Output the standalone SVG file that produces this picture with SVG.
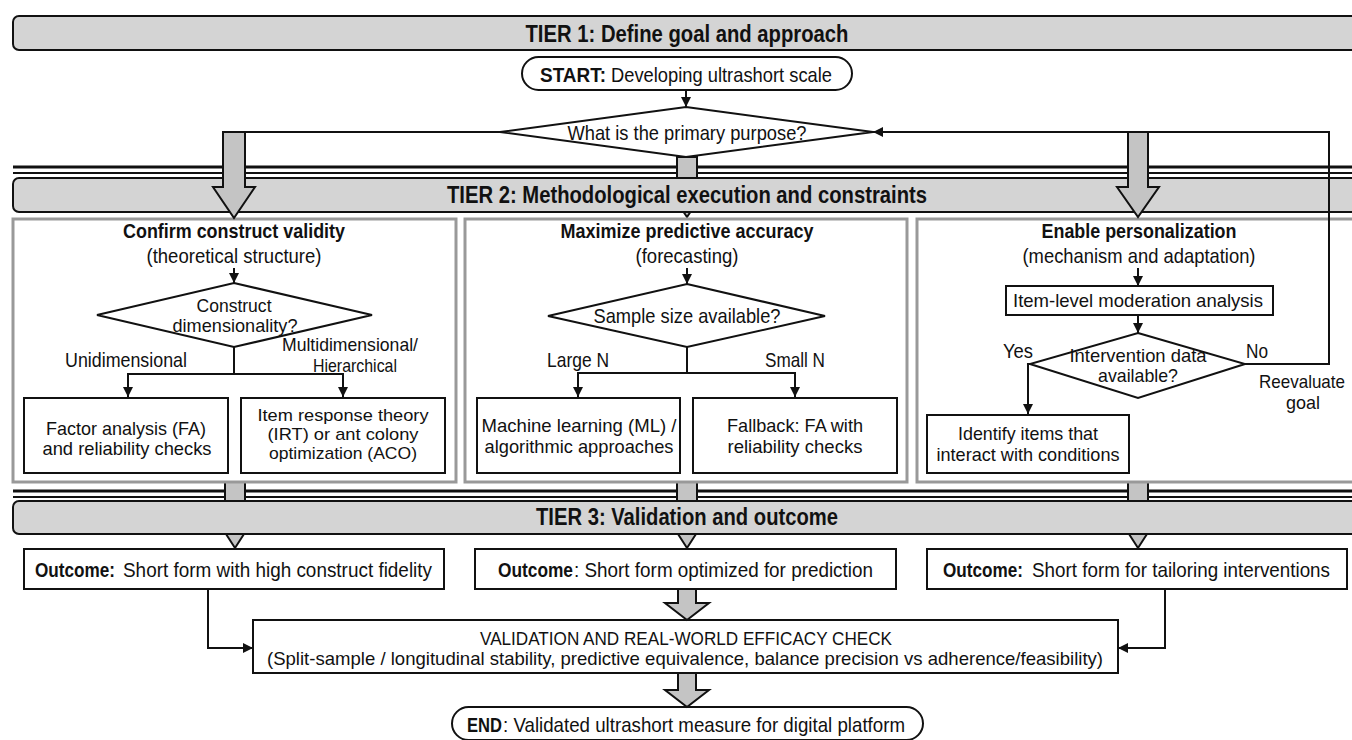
<svg xmlns="http://www.w3.org/2000/svg" width="1352" height="740" viewBox="0 0 1352 740">
<defs>
<style>
text{font-family:"Liberation Sans",Arial,sans-serif;fill:#111;}
.t{font-size:24px;font-weight:bold;text-anchor:middle;}
.m{font-size:21px;text-anchor:middle;}
.l{font-size:21px;text-anchor:start;}
.s{font-size:19px;text-anchor:middle;}
.x{font-size:17px;text-anchor:middle;}
.b{font-weight:bold;}
.bar{fill:#d4d4d4;stroke:#111;stroke-width:2;}
.panel{fill:#fff;stroke:#999;stroke-width:3;}
.box{fill:#fff;stroke:#111;stroke-width:2;}
.dia{fill:#fff;stroke:#111;stroke-width:2;}
.ga{fill:#c4c4c4;stroke:#111;stroke-width:2;stroke-linejoin:miter;}
.c{fill:none;stroke:#111;stroke-width:2;}
.dl{stroke:#111;}
</style>
<marker id="ah" viewBox="0 0 10 10" refX="10" refY="5" markerWidth="10" markerHeight="10" markerUnits="userSpaceOnUse" orient="auto"><path d="M0,0 L10,5 L0,10 z" fill="#111"/></marker>
</defs>
<rect width="1352" height="740" fill="#fff"/>

<g id="separators">
<line class="dl" x1="13" y1="167" x2="1352" y2="167" stroke-width="3"/>
<line class="dl" x1="13" y1="173" x2="1352" y2="173" stroke-width="2"/>
<line class="dl" x1="13" y1="491" x2="1352" y2="491" stroke-width="3"/>
<line class="dl" x1="13" y1="497" x2="1352" y2="497" stroke-width="2"/>
</g>

<g id="under-arrows">
<polygon class="ga" points="677,157 697,157 697,186 708,186 687,217 666,186 677,186"/>
<polygon class="ga" points="225,482 245,482 245,517 255,517 235,548 215,517 225,517"/>
<polygon class="ga" points="677,482 697,482 697,517 707,517 687,548 667,517 677,517"/>
<polygon class="ga" points="1128,482 1148,482 1148,517 1158,517 1138,548 1118,517 1128,517"/>
</g>

<g id="tier1"><rect class="bar" x="13" y="16" width="1350" height="34" rx="6"/><text class="t" x="687" y="42" textLength="323" lengthAdjust="spacingAndGlyphs">TIER 1: Define goal and approach</text></g>
<g id="tier2"><rect class="bar" x="13" y="178" width="1350" height="34" rx="6"/><text class="t" x="687" y="203" textLength="480" lengthAdjust="spacingAndGlyphs">TIER 2: Methodological execution and constraints</text></g>
<g id="tier3"><rect class="bar" x="13" y="501" width="1350" height="33" rx="6"/><text class="t" x="687" y="525" textLength="302" lengthAdjust="spacingAndGlyphs">TIER 3: Validation and outcome</text></g>

<g id="panel-left"><rect class="panel" x="13" y="219" width="443" height="263"/>
<text class="m b" x="234" y="238" textLength="222" lengthAdjust="spacingAndGlyphs">Confirm construct validity</text>
<text class="m" x="234" y="263" textLength="175" lengthAdjust="spacingAndGlyphs">(theoretical structure)</text></g>
<g id="panel-mid"><rect class="panel" x="465" y="219" width="442" height="263"/>
<text class="m b" x="687" y="238" textLength="253" lengthAdjust="spacingAndGlyphs">Maximize predictive accuracy</text>
<text class="m" x="687" y="263" textLength="103" lengthAdjust="spacingAndGlyphs">(forecasting)</text></g>
<g id="panel-right"><rect class="panel" x="917" y="219" width="450" height="263"/>
<text class="m b" x="1139" y="238" textLength="195" lengthAdjust="spacingAndGlyphs">Enable personalization</text>
<text class="m" x="1139" y="263" textLength="233" lengthAdjust="spacingAndGlyphs">(mechanism and adaptation)</text></g>

<g id="start"><rect class="box" x="522" y="57" width="330" height="33" rx="16.5"/>
<text class="l b" x="540" y="82" textLength="66" lengthAdjust="spacingAndGlyphs">START:</text>
<text class="l" x="611" y="82" textLength="221" lengthAdjust="spacingAndGlyphs">Developing ultrashort scale</text></g>

<g id="purpose"><polygon class="dia" points="686,107 873,132 686,157 500,132"/>
<text class="m" x="687" y="140" textLength="239" lengthAdjust="spacingAndGlyphs">What is the primary purpose?</text></g>

<g id="dim"><polygon class="dia" points="234,283 372,315 234,347 97,315"/>
<text class="s" x="234" y="312" textLength="75" lengthAdjust="spacingAndGlyphs">Construct</text>
<text class="s" x="235" y="332" textLength="125" lengthAdjust="spacingAndGlyphs">dimensionality?</text></g>

<g id="fa"><rect class="box" x="24" y="398" width="204" height="75"/>
<text class="s" x="126" y="435" textLength="160" lengthAdjust="spacingAndGlyphs">Factor analysis (FA)</text>
<text class="s" x="127" y="455" textLength="169" lengthAdjust="spacingAndGlyphs">and reliability checks</text></g>

<g id="irt"><rect class="box" x="241" y="398" width="204" height="75"/>
<text class="x" x="343" y="421" textLength="171" lengthAdjust="spacingAndGlyphs">Item response theory</text>
<text class="x" x="343" y="440" textLength="151" lengthAdjust="spacingAndGlyphs">(IRT) or ant colony</text>
<text class="x" x="343" y="459" textLength="148" lengthAdjust="spacingAndGlyphs">optimization (ACO)</text></g>

<g id="sample"><polygon class="dia" points="687,284 825,316 687,347 548,316"/>
<text class="m" x="687" y="323" textLength="187" lengthAdjust="spacingAndGlyphs">Sample size available?</text></g>

<g id="ml"><rect class="box" x="477" y="398" width="203" height="75"/>
<text class="s" x="579" y="432" textLength="195" lengthAdjust="spacingAndGlyphs">Machine learning (ML) /</text>
<text class="s" x="579" y="453" textLength="189" lengthAdjust="spacingAndGlyphs">algorithmic approaches</text></g>

<g id="fallback"><rect class="box" x="693" y="398" width="204" height="75"/>
<text class="s" x="795" y="432" textLength="136" lengthAdjust="spacingAndGlyphs">Fallback: FA with</text>
<text class="s" x="795" y="453" textLength="135" lengthAdjust="spacingAndGlyphs">reliability checks</text></g>

<g id="moderation"><rect class="box" x="1006" y="286" width="267" height="29"/>
<text class="s" x="1138" y="307" textLength="250" lengthAdjust="spacingAndGlyphs">Item-level moderation analysis</text></g>

<g id="intervention"><polygon class="dia" points="1138,333 1245,364 1138,398 1030,364"/>
<text class="s" x="1138" y="362" textLength="137" lengthAdjust="spacingAndGlyphs">Intervention data</text>
<text class="s" x="1138" y="382" textLength="80" lengthAdjust="spacingAndGlyphs">available?</text></g>

<g id="identify"><rect class="box" x="927" y="415" width="202" height="58"/>
<text class="s" x="1028" y="440" textLength="140" lengthAdjust="spacingAndGlyphs">Identify items that</text>
<text class="s" x="1028" y="461" textLength="183" lengthAdjust="spacingAndGlyphs">interact with conditions</text></g>

<g id="out-left"><rect class="box" x="24" y="549" width="420" height="40"/>
<text class="l b" x="35" y="577" textLength="80" lengthAdjust="spacingAndGlyphs">Outcome:</text>
<text class="l" x="123" y="577" textLength="309" lengthAdjust="spacingAndGlyphs">Short form with high construct fidelity</text></g>
<g id="out-mid"><rect class="box" x="475" y="549" width="421" height="40"/>
<text class="l b" x="498" y="577" textLength="75" lengthAdjust="spacingAndGlyphs">Outcome</text>
<text class="l" x="574" y="577" textLength="299" lengthAdjust="spacingAndGlyphs">: Short form optimized for prediction</text></g>
<g id="out-right"><rect class="box" x="927" y="549" width="420" height="40"/>
<text class="l b" x="943" y="577" textLength="80" lengthAdjust="spacingAndGlyphs">Outcome:</text>
<text class="l" x="1032" y="577" textLength="298" lengthAdjust="spacingAndGlyphs">Short form for tailoring interventions</text></g>

<g id="validation"><rect class="box" x="253" y="620" width="865" height="53"/>
<text class="s" x="686" y="645" textLength="412" lengthAdjust="spacingAndGlyphs">VALIDATION AND REAL-WORLD EFFICACY CHECK</text>
<text class="s" x="685" y="665" textLength="836" lengthAdjust="spacingAndGlyphs">(Split-sample / longitudinal stability, predictive equivalence, balance precision vs adherence/feasibility)</text></g>

<g id="end"><rect class="box" x="452" y="707" width="471" height="33" rx="16.5"/>
<text class="l b" x="467" y="732" textLength="35" lengthAdjust="spacingAndGlyphs">END</text>
<text class="l" x="503" y="732" textLength="402" lengthAdjust="spacingAndGlyphs">: Validated ultrashort measure for digital platform</text></g>

<g id="connectors">
<line class="c" x1="234" y1="132" x2="500" y2="132"/>
<path class="c" d="M1245,364 H1329 V132 H873" marker-end="url(#ah)"/>
<line class="c" x1="686" y1="90" x2="686" y2="107" marker-end="url(#ah)"/>
<line class="c" x1="234" y1="268" x2="234" y2="283" marker-end="url(#ah)"/>
<line class="c" x1="687" y1="268" x2="687" y2="284" marker-end="url(#ah)"/>
<line class="c" x1="1138" y1="268" x2="1138" y2="286" marker-end="url(#ah)"/>
<line class="c" x1="1138" y1="315" x2="1138" y2="333" marker-end="url(#ah)"/>
<path class="c" d="M234,347 V374 M128,374 H343"/>
<line class="c" x1="128" y1="373" x2="128" y2="397" marker-end="url(#ah)"/>
<line class="c" x1="343" y1="373" x2="343" y2="397" marker-end="url(#ah)"/>
<path class="c" d="M687,347 V373 M578,373 H795"/>
<line class="c" x1="578" y1="372" x2="578" y2="397" marker-end="url(#ah)"/>
<line class="c" x1="795" y1="372" x2="795" y2="397" marker-end="url(#ah)"/>
<path class="c" d="M1030,364 H1028 V414" marker-end="url(#ah)"/>
<path class="c" d="M208,589 V648 H253" marker-end="url(#ah)"/>
<path class="c" d="M1165,589 V648 H1118" marker-end="url(#ah)"/>
<polygon class="ga" points="223,132 245,132 245,187 255,187 234,218 213,187 223,187"/>
<polygon class="ga" points="1128,132 1148,132 1148,187 1159,187 1138,217 1117,187 1128,187"/>
<polygon class="ga" points="678,589 696,589 696,603 709,603 687,620 665,603 678,603"/>
<polygon class="ga" points="678,673 696,673 696,690 709,690 687,707 665,690 678,690"/>
</g>

<g id="labels">
<text class="m" x="126" y="367" textLength="122" lengthAdjust="spacingAndGlyphs">Unidimensional</text>
<text class="s" x="350" y="351" textLength="136" lengthAdjust="spacingAndGlyphs">Multidimensional/</text>
<text class="s" x="355" y="372" textLength="84" lengthAdjust="spacingAndGlyphs">Hierarchical</text>
<text class="m" x="578" y="367" textLength="62" lengthAdjust="spacingAndGlyphs">Large N</text>
<text class="m" x="795" y="367" textLength="60" lengthAdjust="spacingAndGlyphs">Small N</text>
<text class="m" x="1018" y="358" textLength="30" lengthAdjust="spacingAndGlyphs">Yes</text>
<text class="m" x="1257" y="358" textLength="22" lengthAdjust="spacingAndGlyphs">No</text>
<text class="s" x="1302" y="388" textLength="86" lengthAdjust="spacingAndGlyphs">Reevaluate</text>
<text class="s" x="1303" y="409" textLength="34" lengthAdjust="spacingAndGlyphs">goal</text>
</g>
</svg>
